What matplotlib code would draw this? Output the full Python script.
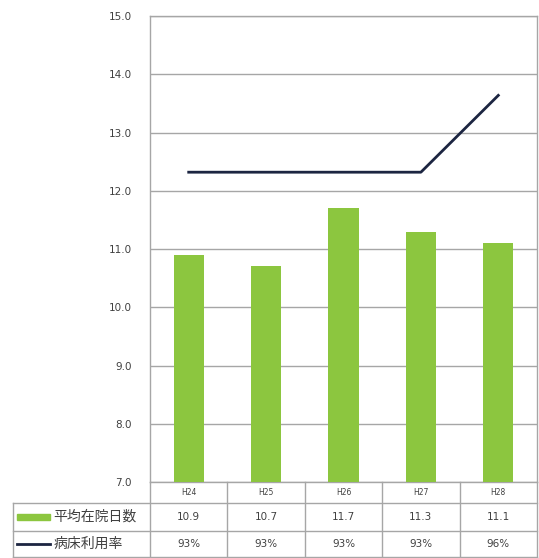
import matplotlib.pyplot as plt
from matplotlib.patches import Rectangle
from matplotlib.lines import Line2D

plt.rcParams['font.family'] = ['Noto Sans CJK JP', 'DejaVu Sans']

# 年度ごとの値
nendo = ['H24', 'H25', 'H26', 'H27', 'H28']
zaiin_nissu = [10.9, 10.7, 11.7, 11.3, 11.1]
riyouritsu = [93, 93, 93, 93, 96]
riyouritsu_label = ['93%', '93%', '93%', '93%', '96%']
yticks = [7.0, 8.0, 9.0, 10.0, 11.0, 12.0, 13.0, 14.0, 15.0]

bar_color = '#8cc63f'
line_color = '#1c2541'
grid_color = '#a6a6a6'
text_color = '#404040'

fig = plt.figure(figsize=(5.39, 5.58), dpi=100)
ax = fig.add_axes([0.2783, 0.1362, 0.718, 0.8351])

x = list(range(len(nendo)))
ax.bar(x, zaiin_nissu, width=0.39, color=bar_color, zorder=3)
ax.set_xlim(-0.5, len(nendo) - 0.5)
ax.set_ylim(7, 15)
ax.set_yticks(yticks)
ax.set_yticklabels(['%.1f' % v for v in yticks], fontsize=7.5, color=text_color,
                   family='DejaVu Sans')
ax.tick_params(axis='y', length=0, pad=13)
ax.set_xticks([])
ax.grid(axis='y', color=grid_color, linewidth=1.0, zorder=0)
for s in ax.spines.values():
    s.set_color(grid_color)
    s.set_linewidth(1.0)

# 病床利用率は第2軸 (非表示)
ax2 = ax.twinx()
ax2.plot(x, riyouritsu, color=line_color, linewidth=2.0, zorder=4)
ax2.set_ylim(80.9, 99.1)
ax2.set_yticks([])
for s in ax2.spines.values():
    s.set_visible(False)

# データテーブル
h_px = 466.0
col_w = 1.0 / len(nendo)
left = -137.0 / 387.0
rows_y = [0, -21 / h_px, -49 / h_px, -75 / h_px]
tr = ax.transAxes

def hline(y, x0, x1):
    ax.add_line(Line2D([x0, x1], [y, y], transform=tr, color=grid_color,
                       linewidth=1.0, clip_on=False))

def vline(xv, y0, y1):
    ax.add_line(Line2D([xv, xv], [y0, y1], transform=tr, color=grid_color,
                       linewidth=1.0, clip_on=False))

hline(rows_y[1], left, 1.0)
hline(rows_y[2], left, 1.0)
hline(rows_y[3], left, 1.0)
vline(left, rows_y[1], rows_y[3])
for i in range(len(nendo) + 1):
    vline(i * col_w, rows_y[0], rows_y[3])

for i, name in enumerate(nendo):
    cx = (i + 0.5) * col_w
    ax.text(cx, (rows_y[0] + rows_y[1]) / 2, name, transform=tr, ha='center',
            va='center', fontsize=5.5, color=text_color, family='DejaVu Sans')
    ax.text(cx, (rows_y[1] + rows_y[2]) / 2, '%.1f' % zaiin_nissu[i], transform=tr,
            ha='center', va='center', fontsize=7.5, color=text_color,
            family='DejaVu Sans')
    ax.text(cx, (rows_y[2] + rows_y[3]) / 2, riyouritsu_label[i], transform=tr,
            ha='center', va='center', fontsize=7.5, color=text_color,
            family='DejaVu Sans')

# 凡例キー
key_x0 = (17 - 150) / 387.0
key_x1 = (50 - 150) / 387.0
ym1 = (rows_y[1] + rows_y[2]) / 2
ym2 = (rows_y[2] + rows_y[3]) / 2
ax.add_patch(Rectangle((key_x0, ym1 - 3 / h_px), key_x1 - key_x0, 6 / h_px,
                       transform=tr, color=bar_color, clip_on=False))
ax.add_line(Line2D([key_x0, key_x1], [ym2, ym2], transform=tr, color=line_color,
                   linewidth=2.0, clip_on=False))
ax.text((53 - 150) / 387.0, ym1, '平均在院日数', transform=tr, ha='left',
        va='center', fontsize=10, color=text_color)
ax.text((54 - 150) / 387.0, ym2, '病床利用率', transform=tr, ha='left',
        va='center', fontsize=10, color=text_color)

fig.savefig('out.png', dpi=100, facecolor='white')
